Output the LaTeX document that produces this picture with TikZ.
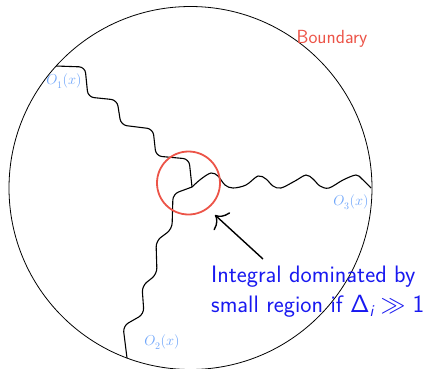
\documentclass[tikz,border=0pt]{standalone}
\usepackage{amsmath,amssymb}
\usepackage{tikz}
\usepackage{xcolor}
\usetikzlibrary{arrows.meta}
\definecolor{spotred}{RGB}{236,84,72}
\definecolor{oplblue}{RGB}{110,165,250}
\definecolor{claimblue}{RGB}{25,25,240}

\begin{document}
\begin{tikzpicture}[x=1pt,y=-1pt,
    wline/.style={line width=1.1pt, rounded corners=6pt},
    oplabel/.style={text=oplblue, font=\fontsize{14.5}{16}\selectfont, inner sep=0pt}]
  \useasboundingbox (0,0) rectangle (424,368);
  \draw[line width=0.8pt] (190.5,188) circle (181.5);
  \coordinate (junc) at (192,187);
  \coordinate (end1) at (56,66);
  \coordinate (end2) at (127,358);
  \coordinate (end3) at (371,188);
  \draw[wline] (end1) -- (85,67) -- (88,97) -- (117,100) -- (121,125)
    -- (153,129) -- (156,156) -- (189,159) -- (junc);
  \draw[wline] (junc) -- (173,194) -- (172,229) -- (156,241) -- (157,274)
    -- (142,286) -- (144,314) -- (123,326) -- (end2);
  \draw[line width=1.1pt] plot[smooth, tension=0.55] coordinates {(192,187) (201,179)
    (211,173) (218,176) (225,185) (233,188) (246,185) (258,176) (266,179)
    (273,186) (281,188) (295,181) (306,175) (313,179) (320,186) (329,188)
    (343,180) (356,175) (362,179) (371,188)};
  \draw[spotred, line width=1.8pt] (188.5,183) circle (31.5);
  \node[oplabel] (o1) at (64,81) {$O_{\raisebox{-2pt}{$\scriptstyle 1$}}(x)$};
  \node[oplabel] (o2) at (162,342) {$O_{\raisebox{-2pt}{$\scriptstyle 2$}}(x)$};
  \node[oplabel] (o3) at (351,202) {$O_{\raisebox{-2pt}{$\scriptstyle 3$}}(x)$};
  \node[text=spotred, font=\sffamily\fontsize{19}{22}\selectfont, inner sep=0pt] (bnd) at (332,39) {Boundary};
  \node[text=claimblue, font=\sffamily\fontsize{23.8}{30}\selectfont, align=left,
    anchor=north west, inner sep=0pt] (claim) at (211,266)
    {Integral dominated by\\small region if $\mathsf{\Delta}_{\textsf{\itshape i}} \gg \mathsf{1}$};
  \coordinate (tail) at (263,259);
  \coordinate (tip) at (215,215);
  \draw[line width=1.4pt, -{To[length=10pt,width=24pt]}] (tail) -- (tip);
\end{tikzpicture}
\end{document}
